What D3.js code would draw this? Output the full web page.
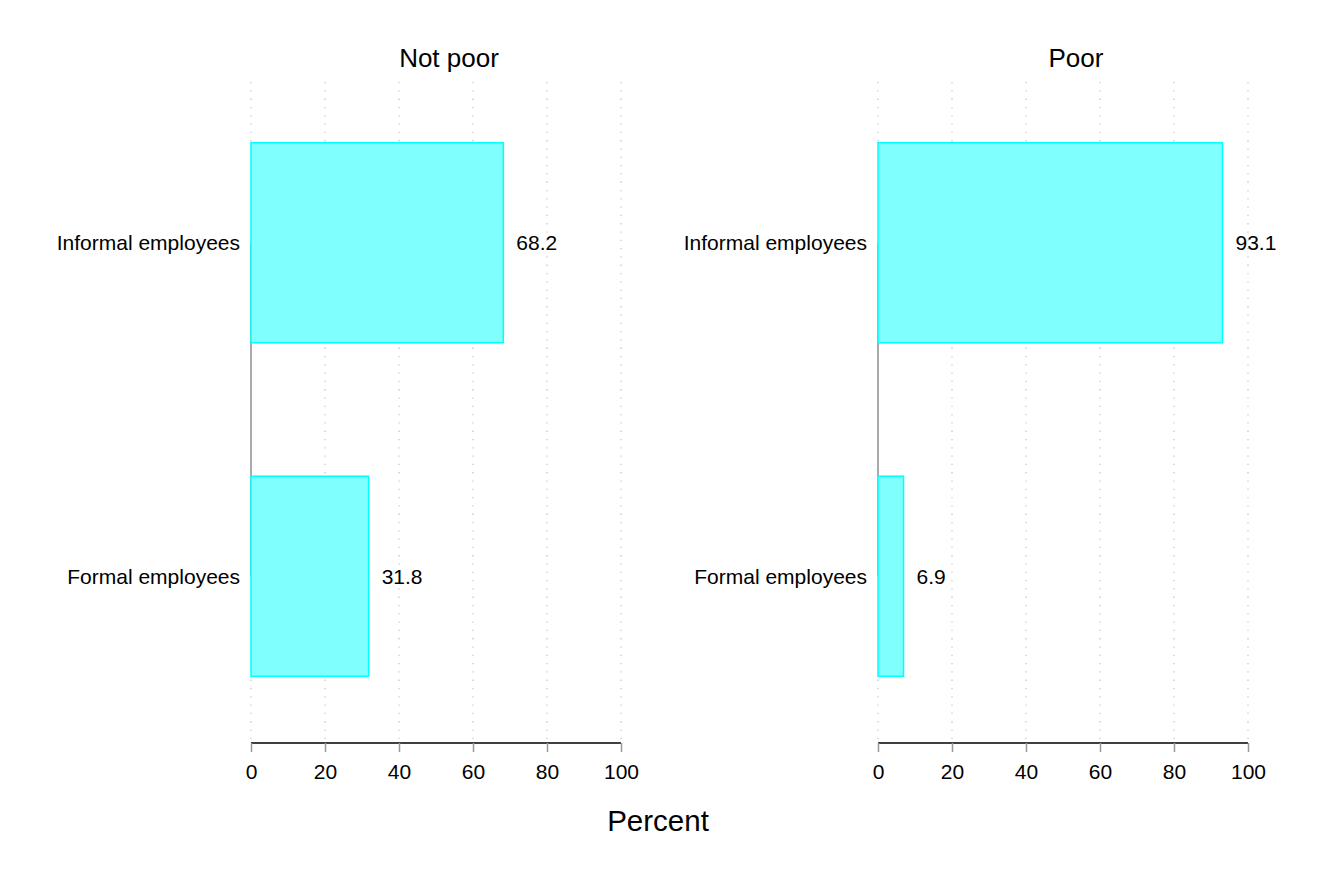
<!DOCTYPE html>
<html><head><meta charset="utf-8">
<script src="https://cdn.jsdelivr.net/npm/d3@7"></script>
<style>body{margin:0;background:#fff}svg{display:block}text{font-family:"Liberation Sans",Arial,sans-serif;fill:#000}</style>
</head><body>
<svg id="c" width="1317" height="878"></svg>
<script>
const categories = ["Informal employees", "Formal employees"];
const panels = ["Not poor", "Poor"];
const notPoorValues = [68.2, 31.8];
const poorValues = [93.1, 6.9];
const ticks = [0, 20, 40, 60, 80, 100];
const xTitle = "Percent";

(function () {
const svg = d3.select("#c");
const plotTop = 76, plotBottom = 743;
const panelLefts = [251, 878], panelWidth = 370;
const series = [notPoorValues, poorValues];

const y = d3.scaleBand().domain(categories).range([plotTop, plotBottom]).paddingInner(0.4).paddingOuter(0.2);

panels.forEach((p, i) => {
  const x = d3.scaleLinear().domain([0, 100]).range([panelLefts[i], panelLefts[i] + panelWidth]);
  const g = svg.append("g");
  g.selectAll(".grid").data(ticks).join("line")
    .attr("x1", d => x(d)).attr("x2", d => x(d))
    .attr("y1", plotTop + 6).attr("y2", plotBottom - 2)
    .attr("stroke", "#c8c8c8").attr("stroke-width", 1.3).attr("stroke-dasharray", "1.3,7");
  g.append("line")
    .attr("x1", x(0)).attr("x2", x(0))
    .attr("y1", y(categories[0]) + y.bandwidth() / 2)
    .attr("y2", y(categories[categories.length - 1]) + y.bandwidth() / 2)
    .attr("stroke", "#aaaaaa").attr("stroke-width", 2);
  const vals = series[i];
  g.selectAll(".bar").data(categories).join("rect")
    .attr("x", x(0))
    .attr("y", d => y(d))
    .attr("width", (d, j) => x(vals[j]) - x(0))
    .attr("height", y.bandwidth())
    .attr("fill", "#80ffff").attr("stroke", "#00ffff").attr("stroke-width", 1.5);
  g.selectAll(".val").data(categories).join("text")
    .attr("x", (d, j) => x(vals[j]) + 13)
    .attr("y", d => y(d) + y.bandwidth() / 2)
    .attr("dy", "0.36em")
    .attr("font-size", 21)
    .text((d, j) => vals[j].toFixed(1));
  g.selectAll(".cat").data(categories).join("text")
    .attr("x", x(0) - 11)
    .attr("y", d => y(d) + y.bandwidth() / 2)
    .attr("dy", "0.36em")
    .attr("text-anchor", "end")
    .attr("font-size", 21)
    .text(d => d);
  const ax = g.append("g").attr("transform", `translate(0,${plotBottom})`)
    .call(d3.axisBottom(x).tickValues(ticks).tickSize(9).tickPadding(12).tickFormat(d3.format("d")));
  ax.select(".domain").attr("stroke", "#000").attr("stroke-width", 1.5).attr("d", `M${x(0)},0H${x(100)}`);
  ax.selectAll(".tick line").attr("stroke", "#999").attr("stroke-width", 1.5);
  ax.selectAll(".tick text").attr("font-size", 21).attr("font-family", '"Liberation Sans",Arial,sans-serif').attr("fill", "#000");
  g.append("text")
    .attr("x", (x(0) + x(100)) / 2 + 13)
    .attr("y", 67)
    .attr("text-anchor", "middle")
    .attr("font-size", 26)
    .text(p);
});

svg.append("text")
  .attr("x", 658).attr("y", 831)
  .attr("text-anchor", "middle")
  .attr("font-size", 29.5)
  .text(xTitle);
})();
</script>
</body></html>
